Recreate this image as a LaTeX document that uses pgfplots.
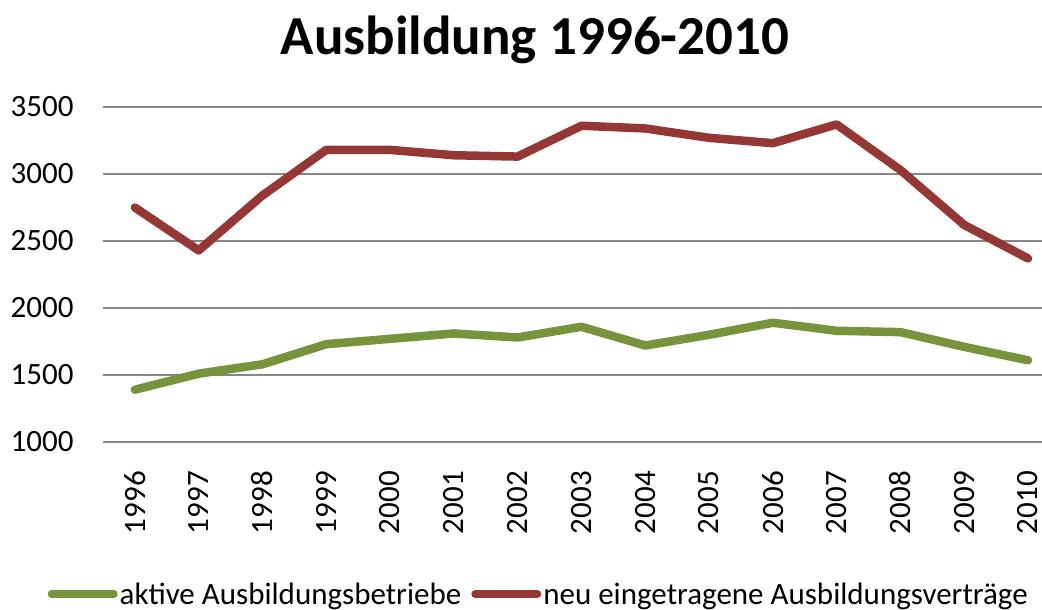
\documentclass[border=0pt]{standalone}
\usepackage{fontspec}
\setmainfont{Carlito}
\usepackage{pgfplots}
\pgfplotsset{compat=1.18}
\definecolor{redl}{HTML}{953735}
\definecolor{greenl}{HTML}{77933C}
\definecolor{gridc}{HTML}{878787}
\begin{document}
\begin{tikzpicture}[x=1pt,y=1pt]
\path[use as bounding box] (0,0) rectangle (1042,-610);
\begin{axis}[
  at={(103pt,-442pt)}, anchor=south west,
  scale only axis, width=939pt, height=335pt,
  xmin=1995.5, xmax=2010.22, ymin=1000, ymax=3500,
  ytick={1000,1500,...,3500},
  xtick={1996,...,2010},
  x tick label style={yshift=-28pt, rotate=90, anchor=east, inner sep=1pt, /pgf/number format/1000 sep={}, /pgf/number format/assume math mode=true, font=\fontsize{31}{36}\selectfont},
  y tick label style={xshift=-26pt, /pgf/number format/1000 sep={}, /pgf/number format/assume math mode=true, font=\fontsize{31}{36}\selectfont},
  ymajorgrids, grid style={gridc, line width=1.5pt},
  axis line style={draw=none}, major tick length=0pt,
  clip=false,
  legend columns=2,
  legend style={at={(axis description cs:0.464,-0.454)}, anchor=center, draw=none, fill=none,
    font=\fontsize{31}{36}\selectfont, /tikz/every even column/.append style={column sep=8pt},
    nodes={inner xsep=2pt}},
  legend image code/.code={\draw[#1, line width=8pt, line cap=round] (0pt,0pt) -- (62pt,0pt);},
]
\addplot[greenl, line width=8.5pt, line join=round, line cap=round] coordinates {
(1996,1390) (1997,1510) (1998,1580) (1999,1730) (2000,1770) (2001,1810) (2002,1780)
(2003,1860) (2004,1720) (2005,1800) (2006,1890) (2007,1830) (2008,1820) (2009,1710) (2010,1610)};
\addlegendentry{aktive Ausbildungsbetriebe}
\addplot[redl, line width=8.5pt, line join=round, line cap=round] coordinates {
(1996,2750) (1997,2430) (1998,2840) (1999,3180) (2000,3180) (2001,3140) (2002,3130)
(2003,3360) (2004,3340) (2005,3270) (2006,3230) (2007,3370) (2008,3030) (2009,2620) (2010,2370)};
\addlegendentry{neu eingetragene Ausbildungsverträge}
\end{axis}
\node at (535,-40) {\fontsize{55}{62}\selectfont\bfseries Ausbildung 1996-2010};
\end{tikzpicture}
\end{document}
